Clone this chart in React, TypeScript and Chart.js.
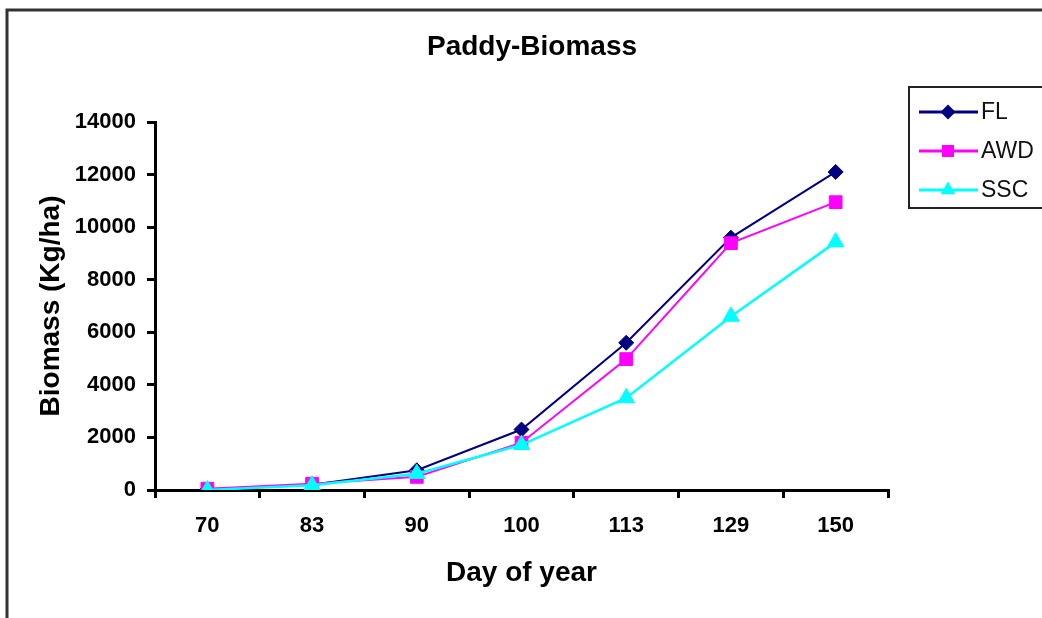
import React, { useEffect, useRef } from 'react';
import { Chart, registerables } from 'chart.js';

Chart.register(...registerables);

const days = ['70', '83', '90', '100', '113', '129', '150'];
const flValues = [30, 200, 750, 2300, 5600, 9600, 12100];
const awdValues = [50, 240, 500, 1800, 4980, 9390, 10950];
const sscValues = [0, 180, 620, 1720, 3500, 6600, 9430];
const seriesNames = ['FL', 'AWD', 'SSC'];
const chartTitle = 'Paddy-Biomass';
const xTitle = 'Day of year';
const yTitle = 'Biomass (Kg/ha)';

const FONT = "'Liberation Sans', Arial, Helvetica, sans-serif";

function drawMarker(ctx: CanvasRenderingContext2D, style: string, x: number, y: number, r: number, color: string) {
  ctx.save();
  ctx.fillStyle = color;
  ctx.beginPath();
  if (style === 'rectRot') {
    ctx.moveTo(x, y - r);
    ctx.lineTo(x + r, y);
    ctx.lineTo(x, y + r);
    ctx.lineTo(x - r, y);
    ctx.closePath();
  } else if (style === 'rect') {
    const s = r * Math.SQRT1_2;
    ctx.rect(x - s, y - s, 2 * s, 2 * s);
  } else {
    const h = r * 1.5;
    const w = r * Math.sqrt(3) / 2;
    ctx.moveTo(x, y - r);
    ctx.lineTo(x + w, y - r + h);
    ctx.lineTo(x - w, y - r + h);
    ctx.closePath();
  }
  ctx.fill();
  ctx.restore();
}

const framePlugin = {
  id: 'frameAndLegend',
  afterDraw(chart: any) {
    const ctx: CanvasRenderingContext2D = chart.ctx;
    ctx.save();
    // outer frame
    ctx.strokeStyle = '#333';
    ctx.lineWidth = 3;
    ctx.strokeRect(7, 10, 1100, 700);
    // legend box
    ctx.strokeStyle = '#222';
    ctx.lineWidth = 2;
    ctx.strokeRect(909, 87, 160, 121);
    chart.data.datasets.forEach((ds: any, i: number) => {
      const y = 112 + i * 39;
      ctx.strokeStyle = ds.borderColor;
      ctx.lineWidth = 3;
      ctx.beginPath();
      ctx.moveTo(919, y);
      ctx.lineTo(978, y);
      ctx.stroke();
      drawMarker(ctx, ds.pointStyle, 948, y, ds.pointStyle === 'rectRot' ? 7.5 : 8.5, ds.borderColor);
      ctx.fillStyle = '#111';
      ctx.font = `23px ${FONT}`;
      ctx.textBaseline = 'middle';
      ctx.textAlign = 'left';
      ctx.fillText(ds.label, 981, y + 1);
    });
    ctx.restore();
  },
};

export default function App() {
  const ref = useRef<HTMLCanvasElement>(null);

  useEffect(() => {
    if (!ref.current) return;
    const chart = new Chart(ref.current, {
      type: 'line',
      data: {
        labels: days,
        datasets: [
          {
            label: seriesNames[0],
            data: flValues,
            borderColor: '#000080',
            backgroundColor: '#000080',
            borderWidth: 2,
            pointStyle: 'rectRot',
            pointRadius: 7.5,
            pointBorderWidth: 1,
            tension: 0,
            order: 2,
          },
          {
            label: seriesNames[1],
            data: awdValues,
            borderColor: '#FF00FF',
            backgroundColor: '#FF00FF',
            borderWidth: 2,
            pointStyle: 'rect',
            pointRadius: 9,
            pointBorderWidth: 1,
            tension: 0,
            order: 1,
          },
          {
            label: seriesNames[2],
            data: sscValues,
            borderColor: '#00FFFF',
            backgroundColor: '#00FFFF',
            borderWidth: 2.5,
            pointStyle: 'triangle',
            pointRadius: 9.5,
            pointBorderWidth: 1,
            tension: 0,
            order: 0,
          },
        ],
      },
      options: {
        responsive: false,
        animation: false,
        layout: { padding: { left: 22, right: 0, top: 0, bottom: 0 } },
        plugins: {
          legend: { display: false },
          tooltip: { enabled: false },
          title: {
            display: true,
            text: chartTitle,
            color: '#000',
            font: { family: FONT, size: 28, weight: 'bold' },
            padding: { top: 30, bottom: 58.4 },
          },
        },
        scales: {
          x: {
            type: 'category',
            offset: true,
            grid: {
              display: true,
              drawOnChartArea: false,
              drawTicks: true,
              tickLength: 8,
              color: '#000',
              lineWidth: 3,
              offset: true,
            },
            border: { display: true, color: '#000', width: 3 },
            ticks: {
              color: '#000',
              padding: 15,
              maxRotation: 0,
              font: { family: FONT, size: 22, weight: 'bold' },
            },
            title: {
              display: true,
              text: xTitle,
              color: '#000',
              font: { family: FONT, size: 28, weight: 'bold' },
              padding: { top: 0, bottom: 28 },
            },
            afterFit: (s: any) => { s.height = 128; },
          },
          y: {
            type: 'linear',
            position: 'left',
            min: 0,
            max: 14000,
            grid: {
              display: true,
              drawOnChartArea: false,
              drawTicks: true,
              tickLength: 8,
              color: '#000',
              lineWidth: 3,
            },
            border: { display: true, color: '#000', width: 3 },
            ticks: {
              stepSize: 2000,
              color: '#000',
              padding: 11,
              font: { family: FONT, size: 22, weight: 'bold' },
              callback: (v: any) => String(v),
            },
            title: {
              display: true,
              text: yTitle,
              color: '#000',
              font: { family: FONT, size: 28, weight: 'bold' },
              padding: { top: 12, bottom: 0 },
            },
            afterFit: (s: any) => { s.width = 133; },
          },
          y2: {
            type: 'linear',
            position: 'right',
            display: true,
            grid: { display: false, drawTicks: false },
            border: { display: false },
            ticks: { display: false },
            afterFit: (s: any) => { s.width = 154; },
          },
        },
      },
      plugins: [framePlugin],
    } as any);
    return () => chart.destroy();
  }, []);

  return (
    <div style={{ position: 'absolute', left: 0, top: 0, width: 1042, height: 618, background: '#fff' }}>
      <canvas ref={ref} width={1042} height={618} style={{ display: 'block' }} />
    </div>
  );
}
